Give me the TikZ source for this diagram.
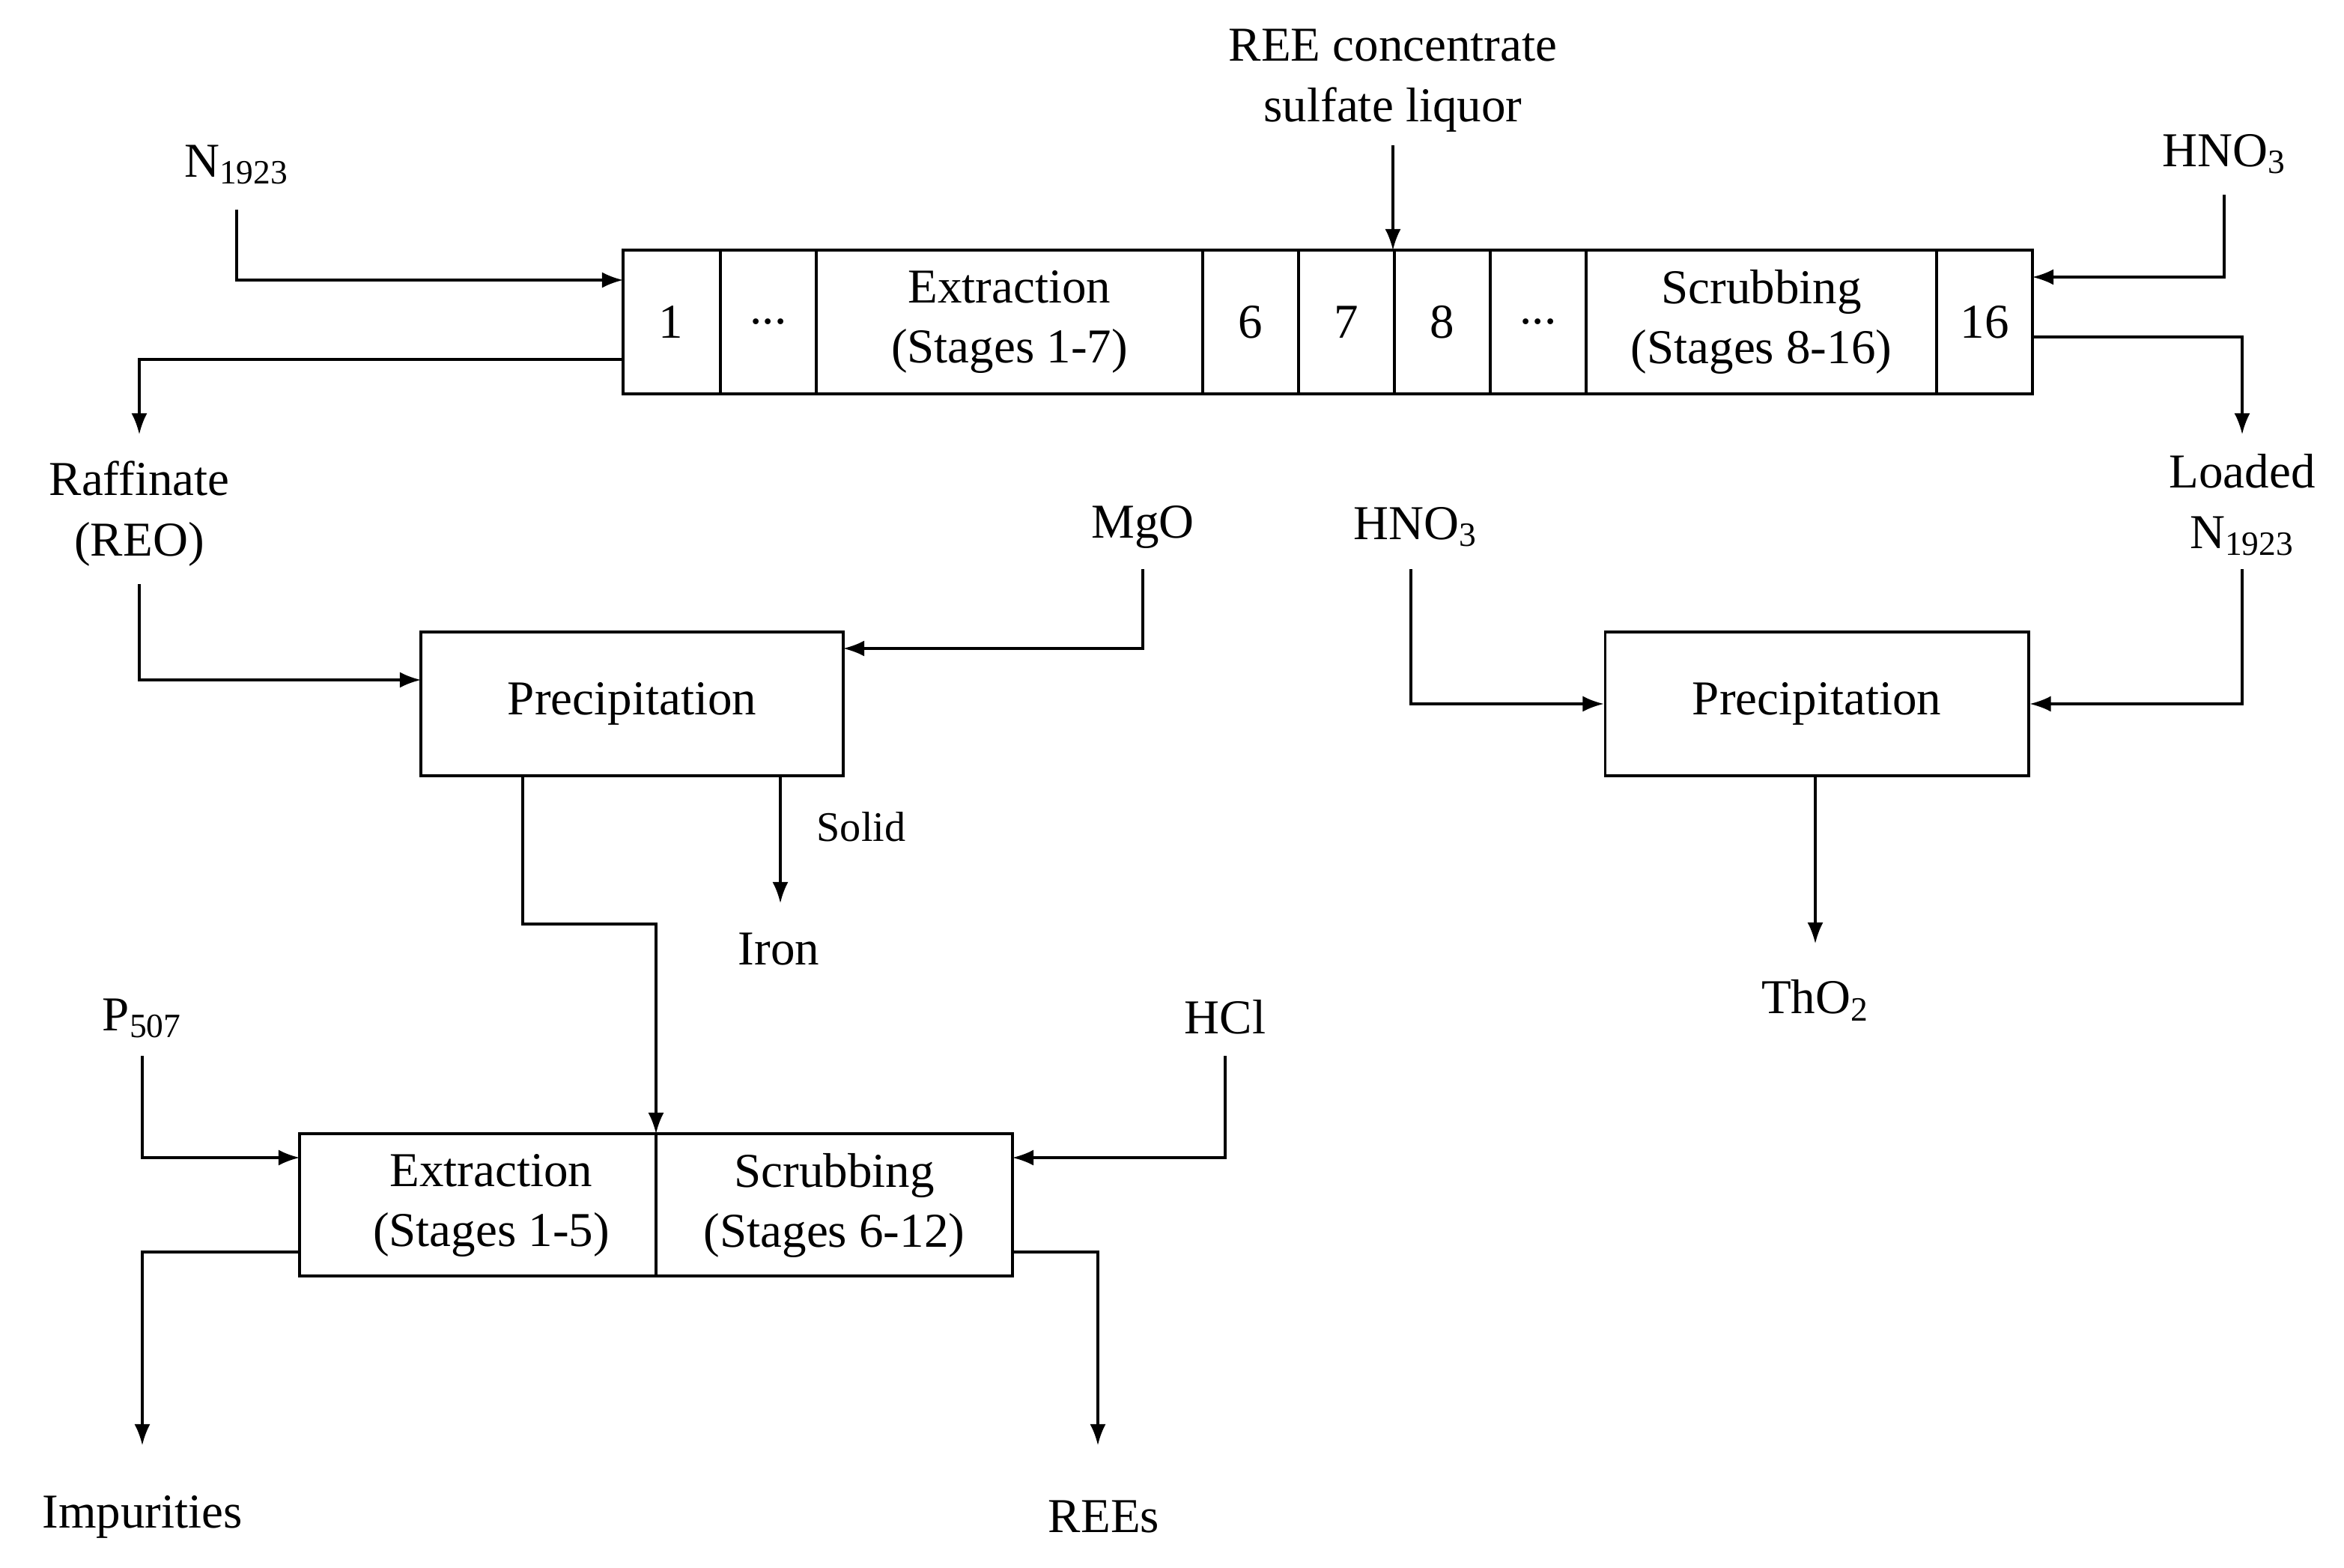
\documentclass[tikz,border=0pt]{standalone}
\usepackage{fontspec}
\setmainfont{Liberation Serif}
\usetikzlibrary{arrows.meta}
\begin{document}
\begin{tikzpicture}[x=0.02cm,y=-0.02cm,
  every node/.style={font=\fontsize{18.5}{23}\selectfont, align=center},
  small/.style={font=\fontsize{16}{19}\selectfont},
  box/.style={draw, line width=0.9pt, minimum height=1.92cm},
  flow/.style={line width=0.9pt, -{Latex[length=8pt,width=6pt]}}]
\useasboundingbox (0,0) rectangle (1565,1047);
% top box
\draw[line width=0.9pt] (416,167) rectangle (1357,263);
\foreach \x in {481,545,803,867,931,995,1059,1293} \draw[line width=0.9pt] (\x,167) -- (\x,263);
\node (t1) at (448,215) {1};
\node (t2) at (513,215) {...};
\node (t3) at (674,215) {Extraction\\(Stages 1-7)};
\node (t4) at (835,215) {6};
\node (t5) at (899,215) {7};
\node (t6) at (963,215) {8};
\node (t7) at (1027,215) {...};
\node (t8) at (1176,215) {Scrubbing\\(Stages 8-16)};
\node (t9) at (1325,215) {16};
\coordinate (TL) at (416,187); \coordinate (TLo) at (416,240);
\coordinate (TR) at (1357,185); \coordinate (TRo) at (1357,225);
\coordinate (TT) at (930,167);
% labels
\node (n1923) at (158,110) {N\textsubscript{1923}};
\node (ree) at (930,54) {REE concentrate\\sulfate liquor};
\node (hno3a) at (1485,103) {HNO\textsubscript{3}};
\node (raff) at (93,343) {Raffinate\\(REO)};
\node (loaded) at (1497,337) {Loaded\\N\textsubscript{1923}};
\draw[flow] (158,140) -- (158,187) -- (TL);
\draw[flow] (TLo) -- (93,240) -- (93,290);
\draw[flow] (930,97) -- (TT);
\draw[flow] (1485,130) -- (1485,185) -- (TR);
\draw[flow] (TRo) -- (1497,225) -- (1497,290);
% precipitation left
\node[box, minimum width=5.64cm] (p1) at (422,470) {Precipitation};
\node (mgo) at (763,352) {MgO};
\node[small] (solid) at (575,552) {Solid};
\node (iron) at (520,634) {Iron};
\draw[flow] (93,390) -- (93,454) -- (281,454);
\draw[flow] (763,380) -- (763,433) -- (563,433);
\draw[flow] (521,518) -- (521,603);
% precipitation right
\node[box, minimum width=5.66cm] (p2) at (1213,470) {Precipitation};
\node (hno3b) at (945,352) {HNO\textsubscript{3}};
\node (tho2) at (1212,668) {ThO\textsubscript{2}};
\draw[flow] (942,380) -- (942,470) -- (p2.west);
\draw[flow] (1497,380) -- (1497,470) -- (p2.east);
\draw[flow] (1212,518) -- (1212,630);
% bottom box
\draw[line width=0.9pt] (200,757) rectangle (676,852);
\draw[line width=0.9pt] (438,757) -- (438,852);
\node (b1) at (328,805) {Extraction\\(Stages 1-5)};
\node (b2) at (557,805) {Scrubbing\\(Stages 6-12)};
\node (p507) at (95,680) {P\textsubscript{507}};
\node (hcl) at (818,679) {HCl};
\node (imp) at (95,1013) {Impurities};
\node (rees) at (737,1013) {REEs};
\draw[flow] (349,518) -- (349,617) -- (438,617) -- (438,757);
\draw[flow] (95,705) -- (95,773) -- (200,773);
\draw[flow] (818,705) -- (818,773) -- (676,773);
\draw[flow] (200,836) -- (95,836) -- (95,965);
\draw[flow] (676,836) -- (733,836) -- (733,965);
\end{tikzpicture}
\end{document}
